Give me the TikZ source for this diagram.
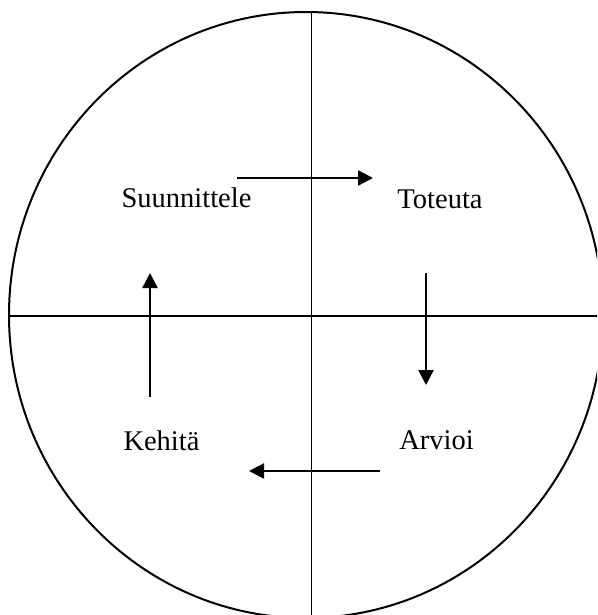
\documentclass[tikz,border=0pt]{standalone}
\usepackage{fontspec}
\setmainfont{Liberation Serif}
\usetikzlibrary{arrows.meta}
\begin{document}
\begin{tikzpicture}[x=1pt,y=-1pt,
  ring/.style={line width=2pt},
  axisline/.style={line width=1.5pt},
  flow/.style={line width=2.4pt,-{Triangle[length=15pt,width=15pt]}},
  lbl/.style={font=\fontsize{28.5}{34}\selectfont,anchor=base,inner sep=0pt}]
\useasboundingbox (0,0) rectangle (597,615);
\clip (0,0) rectangle (597,615);
\fill[white] (0,0) rectangle (597,615);
\draw[ring] (306,315) ellipse [x radius=297, y radius=303];
\coordinate (vT) at (311.5,12);
\coordinate (vB) at (311.5,616);
\coordinate (hL) at (10,316);
\coordinate (hR) at (598,316);
\draw[axisline] (vT) -- (vB);
\draw[axisline] (hL) -- (hR);
\node[lbl] (plan) at (186.5,207.7) {Suunnittele};
\node[lbl] (do) at (440,208) {Toteuta};
\node[lbl] (dev) at (161.5,450.7) {Kehitä};
\node[lbl] (eval) at (436.5,449) {Arvioi};
\coordinate (a1s) at (237,178); \coordinate (a1e) at (373,178);
\coordinate (a2s) at (426,273); \coordinate (a2e) at (426,385);
\coordinate (a3s) at (380,471); \coordinate (a3e) at (249,471);
\coordinate (a4s) at (150,397); \coordinate (a4e) at (150,273);
\draw[flow] (a1s) -- (a1e);
\draw[flow] (a2s) -- (a2e);
\draw[flow] (a3s) -- (a3e);
\draw[flow] (a4s) -- (a4e);
\end{tikzpicture}
\end{document}
